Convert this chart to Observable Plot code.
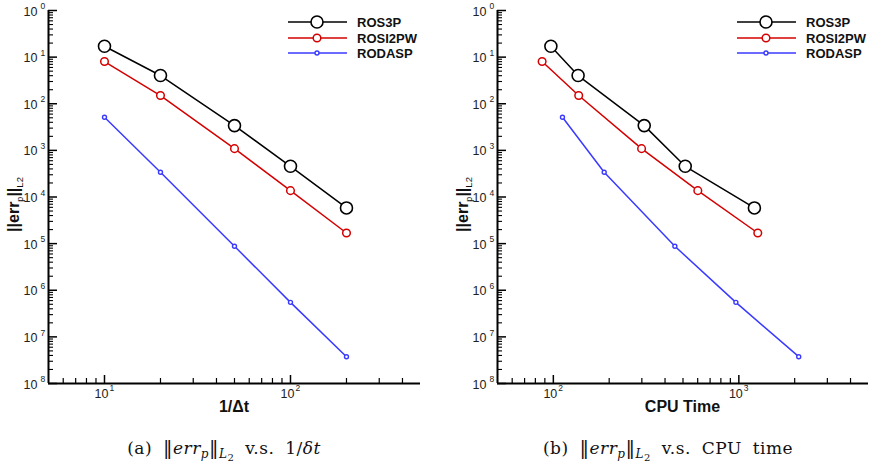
<!DOCTYPE html>
<html><head><meta charset="utf-8">
<script src="https://cdn.jsdelivr.net/npm/d3@7"></script>
<script src="https://cdn.jsdelivr.net/npm/@observablehq/plot@0.6"></script>
<style>
body{margin:0;background:#fff;width:869px;height:469px;overflow:hidden;position:relative;font-family:"Liberation Sans",Arial,sans-serif}
.panel{position:absolute;top:0}
.cap{position:absolute;top:436px;font-family:"DejaVu Serif","Liberation Serif",serif;font-size:17px;color:#111;white-space:nowrap;transform:translateX(-50%);word-spacing:5px;letter-spacing:0.5px}
.cap sub{font-size:12px;vertical-align:-4px}
.cap .bar{font-size:19px}
</style></head><body>
<div id="a" class="panel" style="left:0"></div>
<div id="b" class="panel" style="left:434px"></div>
<div class="cap" style="left:224px">(a) <span class="bar">&#8214;</span><i>err</i><sub><i>p</i></sub><span class="bar">&#8214;</span><sub><i>L</i><sub style="font-size:10px;vertical-align:-3px">2</sub></sub> v.s. 1/<i>&delta;t</i></div>
<div class="cap" style="left:668px">(b) <span class="bar">&#8214;</span><i>err</i><sub><i>p</i></sub><span class="bar">&#8214;</span><sub><i>L</i><sub style="font-size:10px;vertical-align:-3px">2</sub></sub> v.s. CPU time</div>
<script>
// ---- data ----
const series = ["ROS3P", "ROSI2PW", "RODASP"];
const invDt = [10, 20, 50, 100, 200];
const errROS3P = [0.171, 0.0403, 0.0034, 4.56e-4, 5.83e-5];
const errROSI2PW = [0.0805, 0.015, 0.00109, 1.37e-4, 1.69e-5];
const errRODASP = [5.14e-3, 3.39e-4, 8.77e-6, 5.5e-7, 3.76e-8];
const cpuROS3P = [97, 136, 309, 514, 1213];
const cpuROSI2PW = [87, 137, 299, 601, 1265];
const cpuRODASP = [112, 188, 452, 964, 2103];
const yMajorTicks = [1, 1e-1, 1e-2, 1e-3, 1e-4, 1e-5, 1e-6, 1e-7, 1e-8];
const yTickExponents = ["0", "1", "2", "3", "4", "5", "6", "7", "8"];
const xMajorTicksA = [10, 100];
const xTickExponentsA = ["1", "2"];
const xMajorTicksB = [100, 1000];
const xTickExponentsB = ["2", "3"];

// ---- styles ----
const colors = {ROS3P: "#000000", ROSI2PW: "#d40000", RODASP: "#3a3aff"};
const radius = {ROS3P: 6, ROSI2PW: 3.8, RODASP: 2};
const dotWidth = {ROS3P: 1.6, ROSI2PW: 1.5, RODASP: 1.4};
const FONT = "Liberation Sans, Arial, sans-serif";

const errs = {ROS3P: errROS3P, ROSI2PW: errROSI2PW, RODASP: errRODASP};
const cpus = {ROS3P: cpuROS3P, ROSI2PW: cpuROSI2PW, RODASP: cpuRODASP};

function minorTicks(lo, hi) {
  const out = [];
  for (let e = Math.floor(Math.log10(lo)); e <= Math.ceil(Math.log10(hi)); e++) {
    for (let m = 2; m <= 9; m++) {
      const v = m * Math.pow(10, e);
      if (v > lo * 1.0001 && v < hi * 0.9999) out.push(v);
    }
  }
  return out;
}

const H = 420, MT = 10, MB = 37;
const plotH = H - MT - MB;

function panel(el, xsOf, xDomain, xMajor, xExps, width, ML, MR, xTitle) {
  const plotW = width - ML - MR;
  const yDomain = [1e-8, 1];
  const marks = [];
  // axis lines
  marks.push(Plot.ruleX([xDomain[0]], {stroke: "#000", strokeWidth: 2}));
  marks.push(Plot.ruleY([yDomain[0]], {stroke: "#000", strokeWidth: 2}));
  // x ticks
  marks.push(Plot.tickX(xMajor, {x: d => d, insetTop: plotH - 8, stroke: "#000", strokeWidth: 1.5}));
  marks.push(Plot.tickX(minorTicks(xDomain[0], xDomain[1]), {x: d => d, insetTop: plotH - 5, stroke: "#000", strokeWidth: 1.2}));
  // y ticks
  marks.push(Plot.tickY(yMajorTicks, {y: d => d, insetRight: plotW - 9, stroke: "#000", strokeWidth: 1.5}));
  marks.push(Plot.tickY(minorTicks(yDomain[0], yDomain[1]), {y: d => d, insetRight: plotW - 5, stroke: "#000", strokeWidth: 1.1}));
  // y tick labels: "10" + raised exponent
  marks.push(Plot.text(yMajorTicks, {x: xDomain[0], y: d => d, text: () => "10", dx: -11, dy: 1, textAnchor: "end", fontSize: 12.5, fill: "#222", fontFamily: FONT}));
  marks.push(Plot.text(yMajorTicks, {x: xDomain[0], y: d => d, text: (d, i) => yTickExponents[i], dx: -8, dy: -4, textAnchor: "start", fontSize: 8.5, fill: "#222", fontFamily: FONT}));
  // x tick labels
  marks.push(Plot.text(xMajor, {x: d => d, y: yDomain[0], text: () => "10", dx: -3, dy: 10, textAnchor: "middle", fontSize: 12.5, fill: "#222", fontFamily: FONT}));
  marks.push(Plot.text(xMajor, {x: d => d, y: yDomain[0], text: (d, i) => xExps[i], dx: 5, dy: 5, textAnchor: "start", fontSize: 8.5, fill: "#222", fontFamily: FONT}));
  // data
  for (const s of series) {
    const data = errs[s].map((e, i) => ({x: xsOf[s][i], y: e}));
    marks.push(Plot.line(data, {x: "x", y: "y", stroke: colors[s], strokeWidth: 1.5}));
  }
  for (const s of series) {
    const data = errs[s].map((e, i) => ({x: xsOf[s][i], y: e}));
    marks.push(Plot.dot(data, {x: "x", y: "y", r: radius[s], stroke: colors[s], fill: "#fff", strokeWidth: dotWidth[s]}));
  }
  const svg = Plot.plot({
    width, height: H, marginLeft: ML, marginRight: MR, marginTop: MT, marginBottom: MB,
    x: {type: "log", domain: xDomain, axis: null},
    y: {type: "log", domain: yDomain, axis: null},
    style: {background: "transparent", overflow: "visible"},
    marks
  });
  const g = d3.select(svg);
  // x title
  g.append("text").attr("x", ML + plotW / 2).attr("y", 412).attr("text-anchor", "middle")
    .attr("font-family", FONT).attr("font-weight", "bold").attr("font-size", 16)
    .attr("fill", "#111").text(xTitle);
  // y title
  const yt = g.append("text").attr("transform", `translate(${ML - 29},${MT + plotH / 2 + 8}) rotate(-90)`)
    .attr("text-anchor", "middle").attr("font-family", FONT)
    .attr("font-weight", "bold").attr("font-size", 16).attr("fill", "#111");
  yt.append("tspan").text("||err");
  yt.append("tspan").attr("font-size", 9).attr("font-weight", "normal").attr("dy", 4).text("p");
  yt.append("tspan").attr("dy", -4).text("||");
  yt.append("tspan").attr("font-size", 9.5).attr("font-weight", "normal").attr("dy", 4).text("L2");
  // legend
  const lx = ML + 240, ly = [22, 38, 53];
  series.forEach((s, i) => {
    g.append("line").attr("x1", lx).attr("x2", lx + 59).attr("y1", ly[i]).attr("y2", ly[i])
      .attr("stroke", colors[s]).attr("stroke-width", 1.5);
    g.append("circle").attr("cx", lx + 29).attr("cy", ly[i]).attr("r", radius[s])
      .attr("fill", "#fff").attr("stroke", colors[s]).attr("stroke-width", dotWidth[s]);
    g.append("text").attr("x", lx + 69).attr("y", ly[i] + 5).attr("text-anchor", "start")
      .attr("font-family", FONT).attr("font-weight", "bold").attr("font-size", 13)
      .attr("fill", "#111").text(s);
  });
  document.getElementById(el).appendChild(svg);
}

const invDtOf = {ROS3P: invDt, ROSI2PW: invDt, RODASP: invDt};
panel("a", invDtOf, [5, 500], xMajorTicksA, xTickExponentsA, 434, 48, 14, "1/\u0394t");
panel("b", cpus, [50, 5000], xMajorTicksB, xTickExponentsB, 435, 63, 1, "CPU Time");
</script>
</body></html>
